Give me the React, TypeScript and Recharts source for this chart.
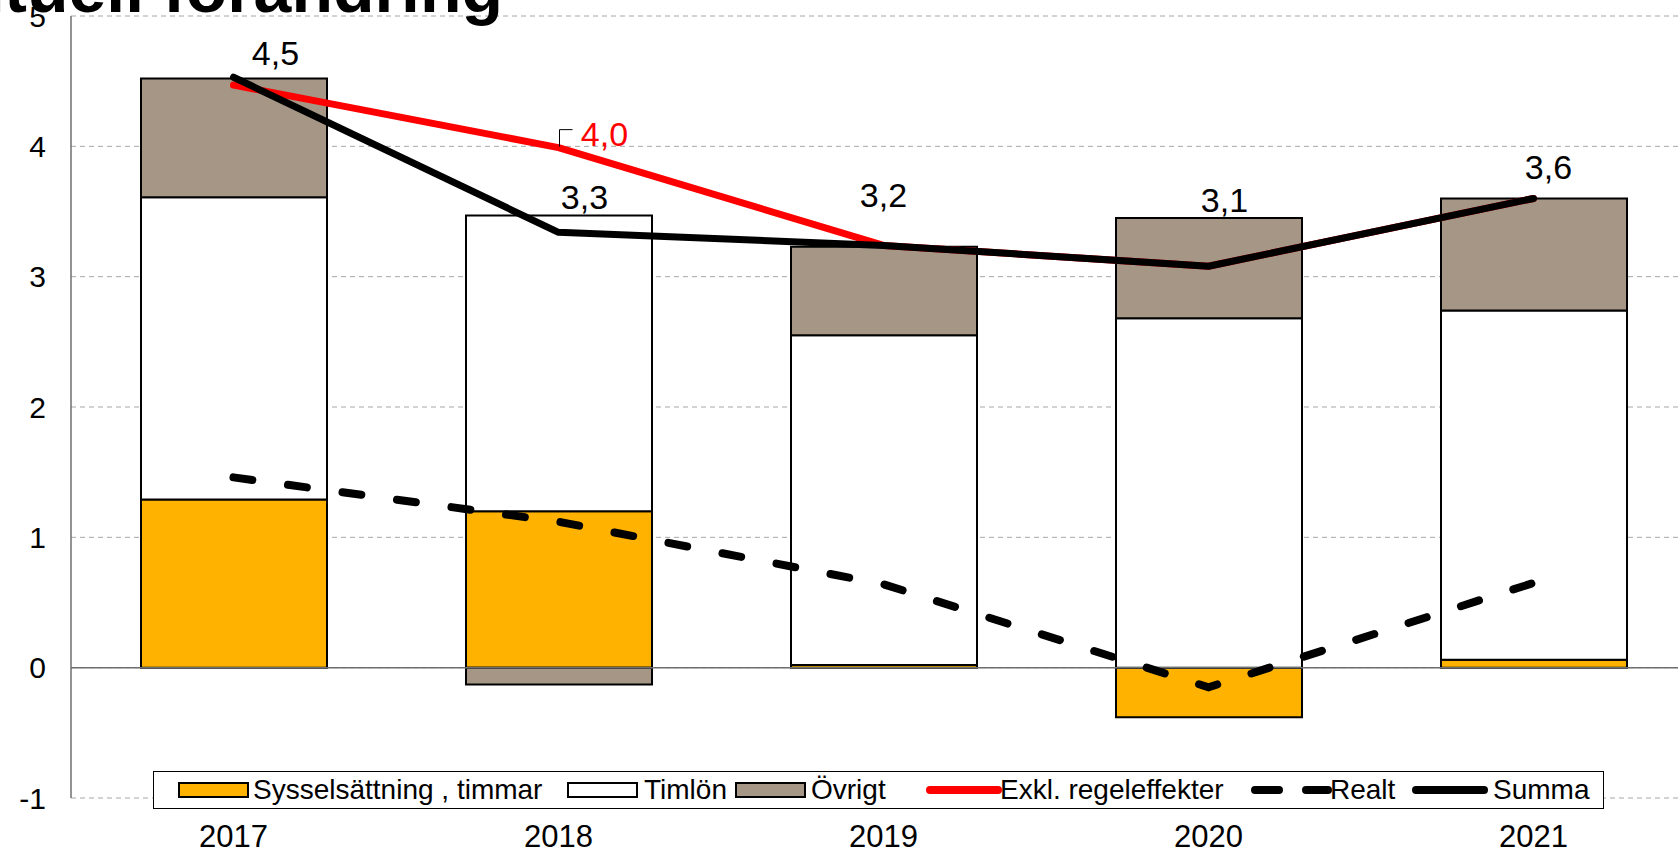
import React from 'react';
import {
  ComposedChart,
  Bar,
  Line,
  XAxis,
  YAxis,
  CartesianGrid,
  ReferenceLine,
  Legend,
  LabelList,
} from 'recharts';

// ---- data ----
const years = ['2017', '2018', '2019', '2020', '2021'];
const sysselsattning = [1.29, 1.2, 0.02, -0.38, 0.06];
const timlon = [2.32, 2.27, 2.53, 2.68, 2.68];
const ovrigt = [0.91, -0.13, 0.68, 0.77, 0.86];
const exklRegeleffekter = [4.47, 3.99, 3.24, 3.08, 3.6];
const realt = [1.46, 1.12, 0.64, -0.15, 0.65];
const summa = [4.53, 3.34, 3.24, 3.08, 3.6];
const yTicks = [-1, 0, 1, 2, 3, 4, 5];
const title = 'Lönesumma, procentuell förändring';
const legendNames = ['Sysselsättning , timmar', 'Timlön', 'Övrigt', 'Exkl. regeleffekter', 'Realt', 'Summa'];

const data = years.map((year, i) => ({
  year,
  sysselsattning: sysselsattning[i],
  timlon: timlon[i],
  ovrigt: ovrigt[i],
  exkl: exklRegeleffekter[i],
  realt: realt[i],
  summa: summa[i],
}));

// ---- styles ----
const FONT = '"Liberation Sans", Arial, sans-serif';
const ORANGE = '#FFB300';
const TAUPE = '#A69685';
const RED = '#FF0000';
const DASH = '19 36';

// label offsets (dx, dy to baseline) for Summa labels
const summaLabelDx = [42, 26, 0, 16, 15];
const summaLabelDy = [-12, -23, -38, -54, -19];

const fmt = (v: number) => v.toFixed(1).replace('.', ',');

const SummaLabel = (props: any) => {
  const { x, y, value, index } = props;
  return (
    <text
      x={x + summaLabelDx[index]}
      y={y + summaLabelDy[index]}
      textAnchor="middle"
      fontFamily={FONT}
      fontSize={34}
      fill="#000"
    >
      {fmt(value)}
    </text>
  );
};

const ExklLabel = (props: any) => {
  const { x, y, value, index } = props;
  if (index !== 1) return null;
  return (
    <g>
      <path
        d={`M${x + 1},${y - 1} L${x + 1},${y - 18} L${x + 14},${y - 18}`}
        stroke="#000"
        strokeWidth={1}
        fill="none"
      />
      <text x={x + 46} y={y - 2} textAnchor="middle" fontFamily={FONT} fontSize={34} fill={RED}>
        {fmt(value)}
      </text>
    </g>
  );
};

const XTick = (props: any) => {
  const { x, y, payload } = props;
  return (
    <text x={x} y={y + 49} textAnchor="middle" fontFamily={FONT} fontSize={31} fill="#000">
      {payload.value}
    </text>
  );
};

const YTick = (props: any) => {
  const { x, y, payload } = props;
  return (
    <text x={x - 25} y={y} dy="0.35em" textAnchor="end" fontFamily={FONT} fontSize={30} fill="#000">
      {payload.value}
    </text>
  );
};

const legendItemX = [26, 415, 583, 773, 1098, 1259];
const legendTextX = [100, 491, 658, 847, 1177, 1340];

const renderLegend = () => {
  const kinds = ['bar', 'bar', 'bar', 'line', 'dash', 'line'];
  const colors = [ORANGE, '#FFFFFF', TAUPE, RED, '#000', '#000'];
  return (
    <div
      style={{
        width: 1451,
        height: 38,
        boxSizing: 'border-box',
        border: '1.5px solid #000',
        background: '#fff',
        position: 'relative',
      }}
    >
      <svg width={1451} height={38} style={{ position: 'absolute', left: -1.5, top: -1.5 }}>
        {legendNames.map((name, i) => {
          const x0 = legendItemX[i];
          let sw;
          if (kinds[i] === 'bar') {
            sw = <rect x={x0} y={12} width={69} height={14} fill={colors[i]} stroke="#000" strokeWidth={2} />;
          } else if (kinds[i] === 'line') {
            sw = (
              <line x1={x0 + 4} y1={19} x2={x0 + 72} y2={19} stroke={colors[i]} strokeWidth={8} strokeLinecap="round" />
            );
          } else {
            sw = (
              <line
                x1={x0 + 4}
                y1={19}
                x2={x0 + 77}
                y2={19}
                stroke={colors[i]}
                strokeWidth={8}
                strokeLinecap="round"
                strokeDasharray="24 27"
              />
            );
          }
          return (
            <g key={name}>
              {sw}
              <text x={legendTextX[i]} y={28} fontFamily={FONT} fontSize={28} fill="#000">
                {name}
              </text>
            </g>
          );
        })}
      </svg>
    </div>
  );
};

export default function App() {
  return (
    <div
      style={{
        position: 'fixed',
        left: 0,
        top: 0,
        width: 1678,
        height: 852,
        overflow: 'hidden',
        background: '#fff',
      }}
    >
      <svg
        width={1678}
        height={852}
        style={{ position: 'absolute', left: 0, top: 0, zIndex: 2, pointerEvents: 'none' }}
      >
        <text x={503} y={12} textAnchor="end" fontFamily={FONT} fontWeight="bold" fontSize={68} fill="#000">
          {title}
        </text>
      </svg>
      <ComposedChart
        width={1710}
        height={852}
        data={data}
        stackOffset="sign"
        margin={{ top: 16, right: 14, left: 0, bottom: 0 }}
      >
        <CartesianGrid vertical={false} stroke="#a6a6a6" strokeDasharray="5 4" />
        <XAxis
          dataKey="year"
          height={54}
          axisLine={false}
          tickLine={false}
          tickSize={0}
          tickMargin={0}
          tick={<XTick />}
          interval={0}
        />
        <YAxis
          width={71}
          domain={[-1, 5]}
          ticks={yTicks}
          type="number"
          allowDataOverflow
          axisLine={{ stroke: '#6f6f6f', strokeWidth: 1.5 }}
          tickLine={false}
          tickSize={0}
          tickMargin={0}
          tick={<YTick />}
        />
        <ReferenceLine y={0} stroke="#6f6f6f" strokeWidth={1.5} />
        <Bar dataKey="sysselsattning" stackId="a" fill={ORANGE} stroke="#000" strokeWidth={2} barSize={186} isAnimationActive={false} />
        <Bar dataKey="timlon" stackId="a" fill="#FFFFFF" stroke="#000" strokeWidth={2} barSize={186} isAnimationActive={false} />
        <Bar dataKey="ovrigt" stackId="a" fill={TAUPE} stroke="#000" strokeWidth={2} barSize={186} isAnimationActive={false} />
        <Line
          dataKey="realt"
          type="linear"
          stroke="#000"
          strokeWidth={8}
          strokeDasharray={DASH}
          strokeLinecap="round"
          dot={false}
          isAnimationActive={false}
        />
        <Line
          dataKey="exkl"
          type="linear"
          stroke={RED}
          strokeWidth={7}
          strokeLinecap="round"
          strokeLinejoin="round"
          dot={false}
          isAnimationActive={false}
        >
          <LabelList dataKey="exkl" content={<ExklLabel />} />
        </Line>
        <Line
          dataKey="summa"
          type="linear"
          stroke="#000"
          strokeWidth={7}
          strokeLinecap="round"
          strokeLinejoin="round"
          dot={false}
          isAnimationActive={false}
        >
          <LabelList dataKey="summa" content={<SummaLabel />} />
        </Line>
        <Legend
          content={renderLegend}
          layout="horizontal"
          verticalAlign="middle"
          align="center"
          wrapperStyle={{ position: 'absolute', left: 153, top: 771, width: 1451, height: 38 }}
        />
      </ComposedChart>
    </div>
  );
}
